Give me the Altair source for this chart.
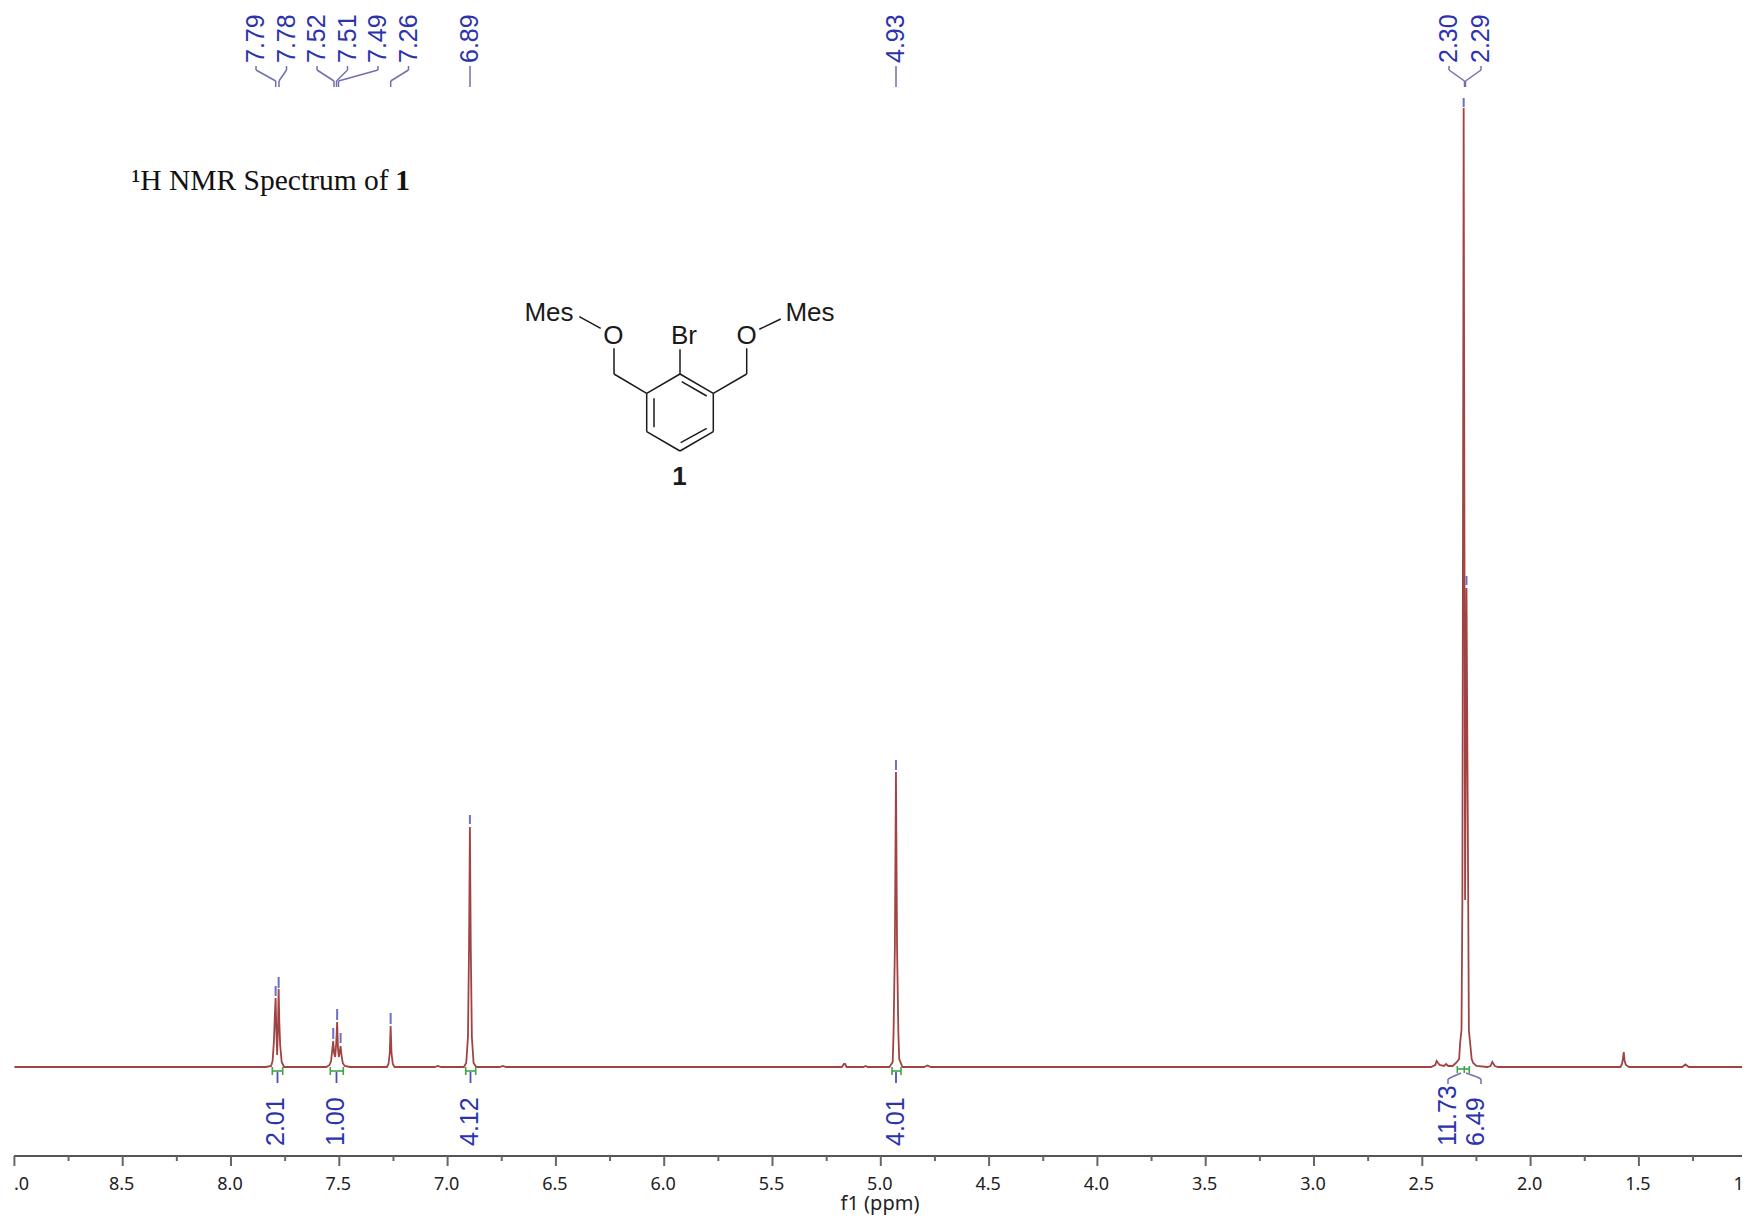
import altair as alt
import pandas as pd

# ---------- spectrum (ppm, intensity) ----------
ppm = [9.0, 8.3, 7.84, 7.815, 7.808, 7.802, 7.797, 7.794, 7.791, 7.787, 7.783, 7.78, 7.777, 7.773, 7.766, 7.755,
       7.56, 7.545, 7.538, 7.533, 7.528, 7.524, 7.519, 7.514, 7.51, 7.506, 7.502, 7.497, 7.494, 7.49, 7.484, 7.475, 7.45,
       7.41, 7.28, 7.273, 7.267, 7.263, 7.259, 7.253, 7.245, 7.06, 7.045, 7.03,
       6.925, 6.914, 6.906, 6.901, 6.897, 6.893, 6.888, 6.88, 6.868, 6.76, 6.745, 6.73, 5.18,
       5.17, 5.165, 5.158, 5.08, 5.07, 5.06, 4.96, 4.945, 4.941, 4.935, 4.93, 4.925, 4.919, 4.915, 4.9, 4.80, 4.784, 4.77,
       2.46, 2.44, 2.434, 2.42, 2.40, 2.39, 2.38, 2.36, 2.345, 2.34, 2.33, 2.325, 2.319, 2.315, 2.309, 2.3025, 2.296, 2.288, 2.285, 2.272, 2.265, 2.25, 2.2,
       2.185, 2.177, 2.165, 2.15, 1.585, 1.578, 1.574, 1.57, 1.566, 1.56, 1.545, 1.3, 1.285, 1.27, 0.98]
height = [0, 0, 0, 1, 6, 25, 55, 69, 40, 12, 40, 78, 45, 22, 5, 0,
          0, 2, 6, 16, 26, 14, 10, 24, 45, 18, 10, 17, 21, 12, 4, 1, 0,
          0, 0, 3, 14, 41, 14, 3, 0, 0, 1, 0,
          0, 4, 30, 120, 240, 120, 30, 4, 0, 0, 1, 0, 0,
          3, 3, 0, 0, 1, 0, 0, 5, 35, 120, 295, 120, 35, 8, 0, 0, 1.5, 0,
          0, 2, 6, 2, 1, 3, 1, 1, 4, 5, 8, 25, 37, 167, 959, 167, 479, 167, 37, 8, 4, 1, 0,
          1, 5, 1, 0, 0, 3, 8, 15, 6, 2, 0, 0, 2.5, 0, 0]

peak_ppm = [7.794, 7.78, 7.528, 7.51, 7.494, 7.263, 6.897, 4.93, 2.309, 2.296]
peak_tick_lo = [71, 79, 28, 47, 24, 43, 243, 297, 960, 482]
peak_tick_hi = [81, 90, 39, 58, 34, 54, 252, 307, 969, 491]
peak_labels = ["7.79", "7.78", "7.52", "7.51", "7.49", "7.26", "6.89", "4.93", "2.30", "2.29"]

integral_labels = ["2.01", "1.00", "4.12", "4.01", "11.73", "6.49"]

major_ticks = [9.0, 8.5, 8.0, 7.5, 7.0, 6.5, 6.0, 5.5, 5.0, 4.5, 4.0, 3.5, 3.0, 2.5, 2.0, 1.5, 1.0]
minor_ticks = [8.75, 8.25, 7.75, 7.25, 6.75, 6.25, 5.75, 5.25, 4.75, 4.25, 3.75, 3.25, 2.75, 2.25, 1.75, 1.25]
tick_labels = [".0", "8.5", "8.0", "7.5", "7.0", "6.5", "6.0", "5.5", "5.0", "4.5", "4.0", "3.5", "3.0", "2.5", "2.0", "1.5", "1.0"]

# ---------- page frame ----------
W, H = 1734, 1211
PX_PER_PPM = 216.6


def fx(px):
    return 9.0 - (px - 14.4) / PX_PER_PPM


def fy(py):
    return 1067 - py


xscale = alt.Scale(domain=[fx(8), fx(8 + W)], range=[0, W], nice=False, zero=False)
yscale = alt.Scale(domain=[fy(8 + H), fy(8)], range=[H, 0], nice=False, zero=False)
X = alt.X("x:Q", scale=xscale, axis=None)
Y = alt.Y("y:Q", scale=yscale, axis=None)

BLUE = "#2b33ad"
LINK = "#6f70ad"
TICKBLUE = "#6b70c8"
GREEN = "#3fa34a"
RED = "#8c1a1a"


def segs(points_list, color, width, opacity=1.0):
    rows = []
    for pts in points_list:
        for (a, b), (c, d) in zip(pts[:-1], pts[1:]):
            rows.append({"x": a, "y": b, "x2": c, "y2": d})
    return (
        alt.Chart(pd.DataFrame(rows))
        .mark_rule(color=color, strokeWidth=width, opacity=opacity)
        .encode(X, Y, x2="x2:Q", y2="y2:Q")
    )


def px(points):
    return [(fx(a), fy(b)) for a, b in points]


def texts(xs, ys, labels, **kw):
    df = pd.DataFrame({"x": xs, "y": ys, "t": labels})
    return alt.Chart(df).mark_text(**kw).encode(X, Y, text="t:N")


# spectrum
spec = (
    alt.Chart(pd.DataFrame({"x": ppm, "y": height, "o": range(len(ppm))}))
    .mark_line(color=RED, strokeWidth=1.8, opacity=0.82, interpolate="linear", clip=True)
    .encode(X, Y, order="o:Q")
)

# peak ticks
peak_marks = segs(
    [[(p, lo), (p, hi)] for p, lo, hi in zip(peak_ppm, peak_tick_lo, peak_tick_hi)],
    TICKBLUE, 2,
)

# peak labels and connectors on top
top_x = [256, 286.5, 317, 347.5, 378, 408.5, 470, 896, 1449, 1481]
top_label = texts(
    [fx(v) for v in top_x], [fy(63)] * len(top_x), peak_labels,
    angle=270, align="left", baseline="middle", font="Liberation Sans", fontSize=25, color=BLUE,
)
targets = [275.7, 279, 334, 336.5, 338.5, 390.7, 470, 896, 1464.5, 1465.5]
links = []
for a, b in zip(top_x, targets):
    if abs(a - b) < 1:
        links.append(px([(a, 66), (a, 87)]))
    else:
        links.append(px([(a, 66), (a, 70), (b, 81), (b, 87)]))
top_links = segs(links, LINK, 1.5)

# integrals
green = [
    [(272.3, 1067), (272.3, 1075)], [(282.7, 1067), (282.7, 1075)], [(272.3, 1071), (282.7, 1071)],
    [(330.3, 1067), (330.3, 1075)], [(343.3, 1067), (343.3, 1075)], [(330.3, 1071), (343.3, 1071)],
    [(465.7, 1067), (465.7, 1075)], [(475.7, 1067), (475.7, 1075)], [(465.7, 1071), (475.7, 1071)],
    [(892, 1067), (892, 1075)], [(901, 1067), (901, 1075)], [(892, 1071), (901, 1071)],
    [(1457.3, 1066), (1457.3, 1073)], [(1464.3, 1066), (1464.3, 1073)], [(1469.3, 1066), (1469.3, 1073)],
    [(1457.3, 1069), (1469.3, 1069)],
]
green_marks = segs([px(g) for g in green], GREEN, 1.6)
stems = [
    [(277.5, 1072), (277.5, 1083)], [(336.5, 1072), (336.5, 1083)],
    [(470.5, 1072), (470.5, 1083)], [(896, 1072), (896, 1083)],
]
stem_marks = segs([px(s) for s in stems], "#4a50b5", 1.8)
braces = [
    [(1461, 1073), (1452, 1077), (1448, 1079), (1448, 1084)],
    [(1466, 1073), (1477, 1077), (1481, 1079), (1481, 1084)],
]
brace_marks = segs([px(b) for b in braces], LINK, 1.5)
int_label = texts(
    [fx(v) for v in [275.5, 336, 470, 896, 1447.5, 1475.5]], [fy(1146)] * 6, integral_labels,
    angle=270, align="left", baseline="middle", font="Liberation Sans", fontSize=25, color=BLUE,
)

# axis
axis_line = segs([px([(14, 1156), (1742, 1156)])], "#555555", 2)
major = segs([[(t, fy(1156)), (t, fy(1166))] for t in major_ticks[:-1]], "#666666", 2)
minor = segs([[(t, fy(1156)), (t, fy(1161))] for t in minor_ticks], "#666666", 2)
axis_text = texts(
    major_ticks[1:], [fy(1185)] * (len(major_ticks) - 1), tick_labels[1:],
    font="Noto Sans", fontSize=18, color="#222222", align="center", baseline="middle", dx=-1,
)
axis_text_left = texts(
    [fx(14)], [fy(1185)], tick_labels[:1],
    font="Noto Sans", fontSize=18, color="#222222", align="left", baseline="middle",
)
axis_title = texts(
    [fx(880)], [fy(1204)], ["f1 (ppm)"],
    font="Noto Sans", fontSize=20, color="#222222", align="center", baseline="middle",
)

# heading
head1 = texts(
    [fx(131.5)], [fy(181)], ["\u00b9H NMR Spectrum of"],
    font="Liberation Serif", fontSize=29.5, color="#111111", align="left", baseline="middle",
)
head2 = texts(
    [fx(410)], [fy(181)], ["1"],
    font="Liberation Serif", fontSize=29.5, fontWeight="bold", color="#111111", align="right", baseline="middle",
)

# structure
bonds = [
    [(680, 374), (713.3, 393.3), (713.3, 431.7), (680, 451), (646.7, 431.7), (646.7, 393.3), (680, 374)],
    [(681.7, 381.7), (706.7, 396)],
    [(654, 398.3), (654, 427.3)],
    [(680.7, 442.7), (706.7, 428.3)],
    [(680, 374), (680, 349.3)],
    [(646.7, 393.3), (614, 374), (614, 348.3)],
    [(600.7, 328.3), (579.3, 316.7)],
    [(713.3, 393.3), (746.7, 374), (746.7, 348.3)],
    [(759.3, 329.3), (780.7, 319)],
]
bond_marks = segs([px(b) for b in bonds], "#1a1a1a", 1.5)
atom_text = texts(
    [fx(v) for v in [549, 613.3, 684, 746.7, 810]],
    [fy(v) for v in [312.5, 335.5, 335.5, 335.5, 313]],
    ["Mes", "O", "Br", "O", "Mes"],
    font="Liberation Sans", fontSize=26, color="#1a1a1a", align="center", baseline="middle",
)
compound = texts(
    [fx(679.5)], [fy(477)], ["1"],
    font="Liberation Sans", fontSize=26, fontWeight="bold", color="#1a1a1a", align="center", baseline="middle",
)

chart = (
    alt.layer(
        spec, peak_marks, top_links, top_label, green_marks, stem_marks, brace_marks, int_label,
        axis_line, major, minor, axis_text, axis_text_left, axis_title,
        head1, head2, bond_marks, atom_text, compound,
    )
    .properties(width=W, height=H, padding=0, autosize="none", background="white")
    .configure_view(stroke=None)
)

chart.save("out.html", embed_options={"renderer": "svg", "actions": False})
